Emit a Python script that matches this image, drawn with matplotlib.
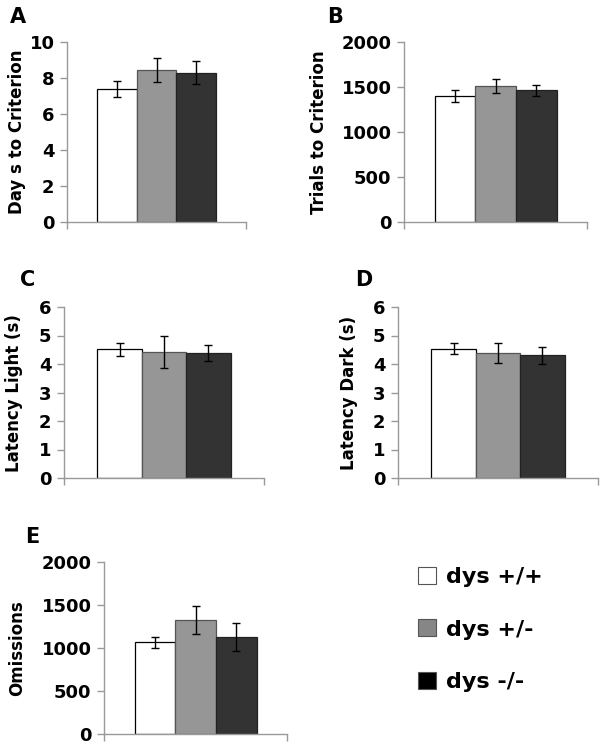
import matplotlib.pyplot as plt
from matplotlib.patches import Patch

plt.rcParams["font.family"] = ["DejaVu Sans"]
plt.rcParams["font.weight"] = "bold"

groups = ["dys +/+", "dys +/-", "dys -/-"]
bar_colors = ["#ffffff", "#969696", "#333333"]
legend_colors = ["#ffffff", "#868686", "#000000"]

days_mean = [7.4, 8.45, 8.3]
days_err = [0.44, 0.65, 0.66]
trials_mean = [1398, 1513, 1465]
trials_err = [65, 75, 60]
lat_light_mean = [4.52, 4.43, 4.39]
lat_light_err = [0.23, 0.56, 0.28]
lat_dark_mean = [4.54, 4.37, 4.30]
lat_dark_err = [0.20, 0.35, 0.29]
omis_mean = [1066, 1326, 1124]
omis_err = [62, 160, 163]

W, H = 604, 746
fig = plt.figure(figsize=(W / 100, H / 100), dpi=100)


def px_axes(x0, y0, x1, y1):
    return fig.add_axes([x0 / W, 1 - y1 / H, (x1 - x0) / W, (y1 - y0) / H])


# letter, axes box (px), data, ylabel, ylim, yticks, letter pos (px), ylabel centre (px)
panels = [
    ("A", (67, 42, 246, 222), days_mean, days_err, "Day s to Criterion",
     (0, 10), [0, 2, 4, 6, 8, 10], (10, 23), (17.5, 132)),
    ("B", (404, 42, 587, 222), trials_mean, trials_err, "Trials to Criterion",
     (0, 2000), [0, 500, 1000, 1500, 2000], (327, 23), (319, 132)),
    ("C", (64, 307, 264, 478), lat_light_mean, lat_light_err, "Latency Light (s)",
     (0, 6), list(range(7)), (20, 286), (14.5, 393)),
    ("D", (398, 307, 598, 478), lat_dark_mean, lat_dark_err, "Latency Dark (s)",
     (0, 6), list(range(7)), (355, 286), (349, 393)),
    ("E", (104, 562, 287, 734), omis_mean, omis_err, "Omissions",
     (0, 2000), [0, 500, 1000, 1500, 2000], (25, 543), (17.5, 648)),
]

xpos = [-1, 0, 1]
for letter, box, mean, err, ylabel, ylim, yticks, lpos, ypos in panels:
    ax = px_axes(*box)
    ax.bar(xpos, mean, width=1.0, color=bar_colors,
           edgecolor=["#000000", "#555555", "#222222"], linewidth=0.9, zorder=2)
    ax.errorbar(xpos, mean, yerr=err, fmt="none", ecolor="black",
                elinewidth=1.0, capsize=3, capthick=1.0, zorder=3)
    ax.set_xlim(-2.25, 2.25)
    ax.set_ylim(*ylim)
    ax.set_yticks(yticks)
    ax.set_xticks([-2.25, 2.25])
    ax.set_xticklabels([])
    for side in ("top", "right"):
        ax.spines[side].set_visible(False)
    for side in ("left", "bottom"):
        ax.spines[side].set_color("#999999")
        ax.spines[side].set_linewidth(1.0)
    ax.tick_params(axis="both", colors="#999999", length=5, width=1.0)
    ax.tick_params(axis="y", labelcolor="black", labelsize=13, pad=4)
    for t in ax.get_yticklabels():
        t.set_fontweight("bold")
    fig.text(ypos[0] / W, 1 - ypos[1] / H, ylabel, rotation=90, fontsize=12,
             fontweight="bold", ha="center", va="center")
    fig.text(lpos[0] / W, 1 - lpos[1] / H, letter, fontsize=15,
             fontweight="bold", ha="left", va="baseline")

handles = [Patch(facecolor=c, edgecolor="#555555", linewidth=0.8) for c in legend_colors]
fig.legend(handles, groups, loc="upper left", bbox_to_anchor=(418 / W, 1 - 567 / H),
           frameon=False, prop={"size": 16, "weight": "bold"}, borderpad=0,
           borderaxespad=0, handlelength=0.8, handleheight=0.8,
           handletextpad=0.45, labelspacing=1.45)

fig.savefig("out.png", dpi=100)
